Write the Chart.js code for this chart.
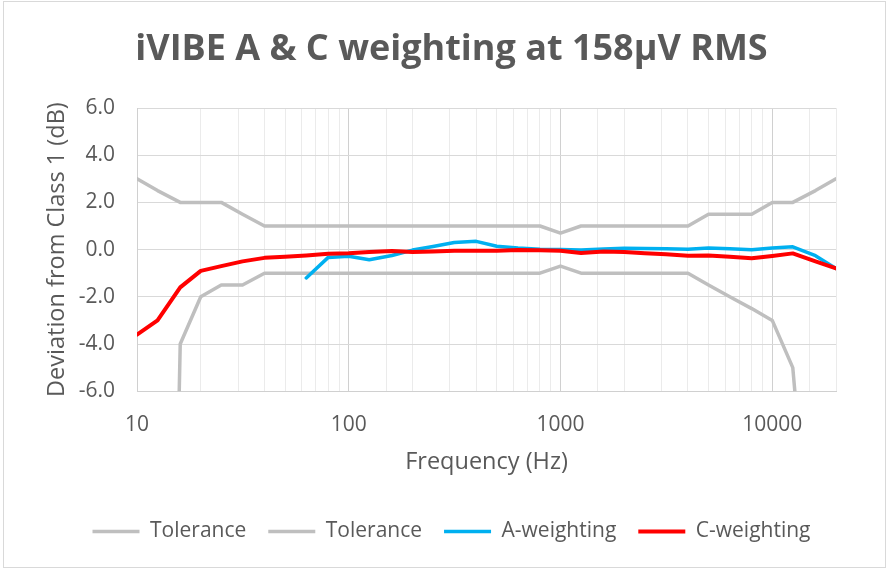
<!DOCTYPE html>
<html>
<head>
<meta charset="utf-8">
<script src="https://cdn.jsdelivr.net/npm/chart.js@4"></script>
<style>
  body { margin: 0; background: #fff; }
  #wrap { position: absolute; left: 3px; top: 1px; width: 881px; height: 565px; border: 1px solid #d9d9d9; }
</style>
</head>
<body>
<div id="wrap"><canvas id="myChart" width="881" height="565"></canvas></div>
<script>
const ctx = document.getElementById("myChart");

// 1/3 octave frequencies (Hz)
const freqs = [10, 12.5, 16, 20, 25, 31.5, 40, 50, 63, 80, 100, 125, 160, 200, 250, 315, 400, 500, 630, 800,
  1000, 1250, 1600, 2000, 2500, 3150, 4000, 5000, 6300, 8000, 10000, 12500, 16000, 20000];

// Class 1 tolerance limits (dB)
const tolUpper = [3, 2.5, 2, 2, 2, 1.5, 1, 1, 1, 1, 1, 1, 1, 1, 1, 1, 1, 1, 1, 1,
  0.7, 1, 1, 1, 1, 1, 1, 1.5, 1.5, 1.5, 2, 2, 2.5, 3];
const tolLower = [null, -50, -4, -2, -1.5, -1.5, -1, -1, -1, -1, -1, -1, -1, -1, -1, -1, -1, -1, -1, -1,
  -0.7, -1, -1, -1, -1, -1, -1, -1.5, -2, -2.5, -3, -5, -16, null];

// measured deviation (dB)
const aWeight = [null, null, null, null, null, null, null, null, -1.2, -0.33, -0.28, -0.43, -0.25, -0.02, 0.13, 0.3, 0.35, 0.14, 0.07, 0.02,
  0, -0.02, 0.03, 0.06, 0.05, 0.04, 0.01, 0.07, 0.04, -0.01, 0.07, 0.12, -0.26, -0.8];
const cWeight = [-3.6, -3.0, -1.6, -0.9, -0.7, -0.5, -0.35, -0.3, -0.25, -0.18, -0.15, -0.1, -0.06, -0.1, -0.08, -0.05, -0.05, -0.05, -0.02, -0.03,
  -0.05, -0.14, -0.08, -0.1, -0.15, -0.2, -0.26, -0.25, -0.3, -0.37, -0.27, -0.16, -0.5, -0.8];

const yTicks = [-6, -4, -2, 0, 2, 4, 6];

const toPoints = (vals) => freqs.map((f, i) => ({ x: f, y: vals[i] }));

const FONT = "'Open Sans', 'Liberation Sans', sans-serif";
const TXT = "#595959";

new Chart(ctx, {
  type: "line",
  data: {
    datasets: [
      { label: "Tolerance", data: toPoints(tolUpper), borderColor: "#bfbfbf", backgroundColor: "#bfbfbf", borderWidth: 3.5, order: 4 },
      { label: "Tolerance", data: toPoints(tolLower), borderColor: "#bfbfbf", backgroundColor: "#bfbfbf", borderWidth: 3.5, order: 3 },
      { label: "A-weighting", data: toPoints(aWeight), borderColor: "#00b0f0", backgroundColor: "#00b0f0", borderWidth: 3.5, order: 2 },
      { label: "C-weighting", data: toPoints(cWeight), borderColor: "#ff0000", backgroundColor: "#ff0000", borderWidth: 4, order: 1 },
    ],
  },
  options: {
    responsive: false,
    animation: false,
    spanGaps: false,
    elements: { point: { radius: 0 }, line: { tension: 0, borderJoinStyle: "round", borderCapStyle: "round" } },
    layout: { padding: { left: 63, right: 49, top: 0, bottom: 15 } },
    scales: {
      x: {
        type: "logarithmic",
        min: 10,
        max: 20000,
        afterFit: (s) => { s.height = 107.8; },
        border: { color: "#d0d0d0" },
        grid: {
          drawTicks: false,
          color: (c) => {
            const v = c.tick ? c.tick.value : 0;
            return Number.isInteger(Math.log10(v)) ? "#d0d0d0" : "#ebebeb";
          },
        },
        ticks: {
          autoSkip: false,
          maxRotation: 0,
          padding: 21,
          color: TXT,
          font: { family: FONT, size: 21 },
          callback: (v) => (Number.isInteger(Math.log10(v)) ? String(v) : ""),
        },
        title: { display: true, text: "Frequency (Hz)", color: TXT, font: { family: FONT, size: 23.5 }, padding: { top: 0, bottom: 22.7 } },
      },
      y: {
        min: -6,
        max: 6,
        afterFit: (s) => { s.width = 70; },
        border: { color: "#d0d0d0" },
        afterBuildTicks: (s) => { s.ticks = yTicks.map((v) => ({ value: v })); },
        grid: { drawTicks: false, color: "#d9d9d9" },
        ticks: { padding: 22, color: TXT, font: { family: FONT, size: 21 }, callback: (v) => v.toFixed(1) },
        title: { display: true, text: "Deviation from Class 1 (dB)", color: TXT, font: { family: FONT, size: 23.5 }, padding: { top: -24.1, bottom: 0 } },
      },
    },
    plugins: {
      title: {
        display: true,
        text: "iVIBE A & C weighting at 158\u00b5V RMS",
        color: TXT,
        font: { family: FONT, size: 36, weight: "bold" },
        padding: { top: 26.4, bottom: 36.4 },
      },
      legend: {
        position: "bottom",
        labels: {
          usePointStyle: true,
          pointStyle: "line",
          pointStyleWidth: 47,
          boxHeight: 4,
          padding: 22,
          color: TXT,
          font: { family: FONT, size: 21 },
          sort: (a, b) => a.datasetIndex - b.datasetIndex,
        },
      },
      tooltip: { enabled: false },
    },
  },
});
</script>
</body>
</html>
